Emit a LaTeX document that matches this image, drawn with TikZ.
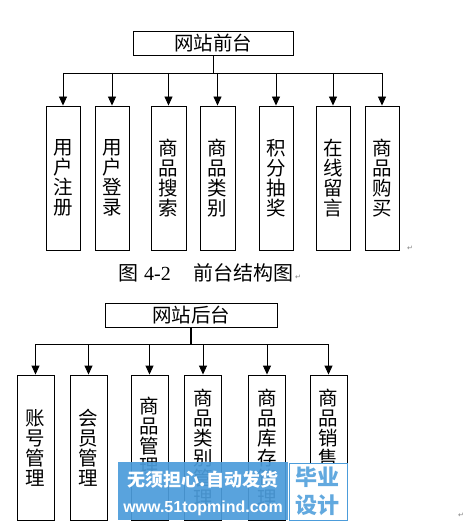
\documentclass[tikz,border=0pt]{standalone}
\usepackage{fontspec}
\newfontfamily\cjk{Noto Sans CJK SC}
\newfontfamily\serif{Liberation Serif}
\newfontfamily\wsans{Liberation Sans}
\newfontfamily\dv{DejaVu Sans}
\usetikzlibrary{arrows.meta}
\definecolor{wmblue}{HTML}{4C9CDA}
\definecolor{wmlight}{HTML}{62A9DF}
\begin{document}
\begin{tikzpicture}[x=1pt,y=-1pt,
  topbox/.style={draw, line width=0.9pt, inner sep=0pt, font=\cjk\fontsize{19.5}{20}\selectfont},
  childbox/.style={draw, line width=0.9pt, inner sep=0pt, minimum height=144pt},
  vtext/.style={align=center, inner sep=0pt, font=\cjk\fontsize{19.5}{20}\selectfont},
  arr/.style={line width=0.9pt, -{Triangle[length=9pt,width=8pt]}},
  link/.style={line width=0.9pt},
  pmark/.style={font=\dv\fontsize{7}{8}\selectfont, text=gray, inner sep=0pt}]
\useasboundingbox (0,0) rectangle (465,521);
% ---------- upper diagram ----------
\node[topbox, minimum width=160pt, minimum height=24pt] (top1) at (213,43) {网站前台};
\coordinate (j1) at (213,73);
\foreach \n/\x/\w in {1/63/34,2/112/34,3/168.5/35,4/217.5/35,5/276/34,6/333/34,7/382/34}{
  \node[childbox, minimum width=\w pt] (u\n) at (\x,178) {};
}
\node[vtext] (ut1) at (u1) {用\\户\\注\\册};
\node[vtext] (ut2) at (u2) {用\\户\\登\\录};
\node[vtext] (ut3) at (u3) {商\\品\\搜\\索};
\node[vtext] (ut4) at (u4) {商\\品\\类\\别};
\node[vtext] (ut5) at (u5) {积\\分\\抽\\奖};
\node[vtext] (ut6) at (u6) {在\\线\\留\\言};
\node[vtext] (ut7) at (u7) {商\\品\\购\\买};
\draw[link] (top1.south) -- (j1);
\draw[link] (u1 |- j1) -- (u7 |- j1);
\foreach \n in {1,...,7}{\draw[arr] (u\n |- j1) -- (u\n.north);}
\node[pmark] (m1) at (410,248) {↵};
% caption
\node[anchor=west, inner sep=0pt, font=\cjk\fontsize{20}{22}\selectfont] (cap) at (118,273)
  {图\kern6pt{\serif 4-2}\kern23pt 前台结构图};
\node[pmark] (m2) at (298,277) {↵};
% ---------- lower diagram ----------
\node[topbox, minimum width=172pt, minimum height=24pt] (top2) at (191,315) {网站后台};
\coordinate (j2) at (191,344);
\foreach \n/\x in {1/35.5,2/88.5,3/149.5,4/203,5/267,6/328.5}{
  \node[childbox, minimum width=37pt, minimum height=145pt] (d\n) at (\x,447.5) {};
}
\node[vtext] (dt1) at (d1) {账\\号\\管\\理};
\node[vtext] (dt2) at (d2) {会\\员\\管\\理};
\node[vtext, anchor=north] (dt3) at (149.5,397) {商\\品\\管\\理};
\node[vtext] (dt4) at (d4) {商\\品\\类\\别\\管\\理};
\node[vtext] (dt5) at (d5) {商\\品\\库\\存\\管\\理};
\node[vtext] (dt6) at (d6) {商\\品\\销\\售\\管\\理};
\draw[line width=2pt] (top2.south) -- (j2);
\draw[link] (d1 |- j2) -- (d6 |- j2);
\foreach \n in {1,...,6}{\draw[arr] (d\n |- j2) -- (d\n.north);}
\node[pmark] (m3) at (461,515) {↵};
% ---------- watermark ----------
\node[fill=wmblue, fill opacity=0.93, minimum width=170pt, minimum height=58pt, inner sep=0pt, anchor=north west] (wm) at (118,462) {};
\node[draw=wmblue, line width=1.2pt, fill=white, minimum width=58pt, minimum height=57pt, inner sep=0pt, anchor=north west] (wmr) at (288.5,462.5) {};
\node[text=white, inner sep=0pt, font=\cjk\bfseries\fontsize{18}{20}\selectfont] (wmt1) at (203,480) {无须担心.自动发货};
\node[text=white, inner sep=0pt, font=\wsans\bfseries\fontsize{16}{18}\selectfont] (wmt2) at (203,508) {www.51topmind.com};
\node[text=wmlight, inner sep=0pt, font=\cjk\bfseries\fontsize{22}{24}\selectfont] (wmt3) at (317.5,477) {毕业};
\node[text=wmlight, inner sep=0pt, font=\cjk\bfseries\fontsize{22}{24}\selectfont] (wmt4) at (317.5,505) {设计};
\end{tikzpicture}
\end{document}
